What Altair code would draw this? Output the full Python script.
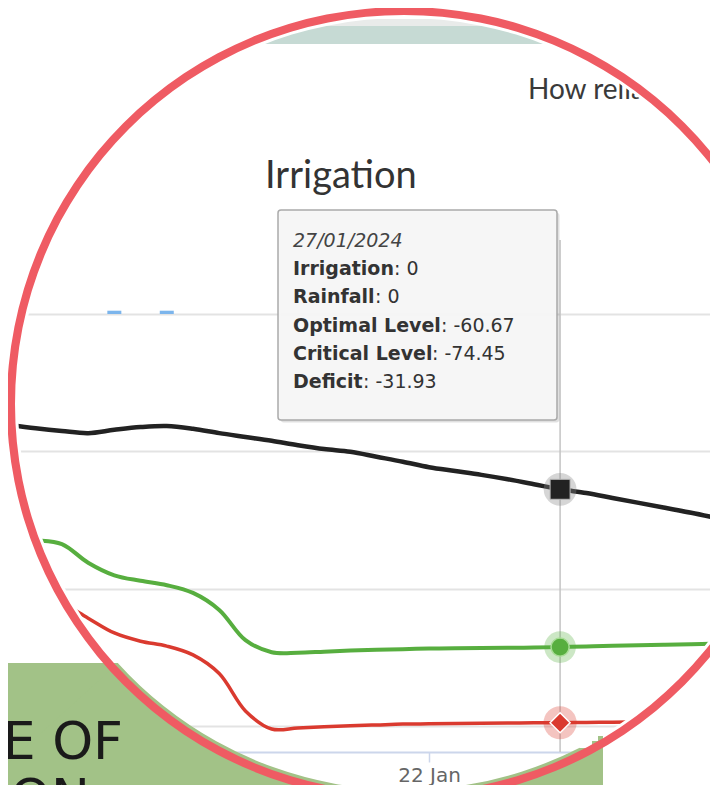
import altair as alt
import pandas as pd

# ---------------- data ----------------
dates = ["2024-01-%02d" % d for d in range(6, 32)] + ["2024-02-01", "2024-02-02"]
deficit = [-20.2, -20.8, -21.3, -21.7, -21.1, -20.6, -20.4, -20.9, -21.7, -22.4,
           -23.1, -23.9, -24.6, -25.1, -26.0, -26.9, -27.9, -28.6, -29.3, -30.1,
           -31.0, -31.93, -32.6, -33.5, -34.4, -35.3, -36.2, -37.2]
optimal = [-41.0, -41.2, -41.9, -45.3, -47.6, -48.6, -49.4, -50.8, -53.9, -59.4,
           -61.6, -61.7, -61.5, -61.3, -61.15, -61.05, -60.95, -60.9, -60.85, -60.8,
           -60.75, -60.67, -60.55, -60.45, -60.35, -60.25, -60.15, -60.05]
critical = [-48.5, -50.5, -52.6, -55.4, -58.1, -59.6, -60.5, -62.1, -65.5, -72.3,
            -75.6, -75.4, -75.2, -75.0, -74.85, -74.7, -74.65, -74.6, -74.55, -74.5,
            -74.47, -74.45, -74.4, -74.35, -74.3, -74.2, -74.15, -74.1]
rainfall = [0, 0, 0, 0, 0.6, 0, 0.6, 0, 0, 0, 0, 0, 0, 0,
            0, 0, 0, 0, 0, 0, 0, 0, 0, 0, 0, 0, 0, 0]
irrigation = [0, 0, 0, 0, 0, 0, 0, 0, 0, 0, 0, 0, 0, 0,
              0, 0, 0, 0, 0, 0, 0, 0, 0, 0, 0, 0, 0, 0]
grid_values = [0, -25, -50, -75]
tick_dates = ["2024-01-22"]
hover_date = "2024-01-27"
hover_label = "27/01/2024"
tip_labels = ["Irrigation", "Rainfall", "Optimal Level", "Critical Level", "Deficit"]
chart_title = "Irrigation"
page_heading = "How reliable"
side_text_1 = "E OF"
side_text_2 = "ON"

# ---------------- layout ----------------
W, H, PAD_B = 702, 744, 33
ZERO_Y = 306.0
PPU = 5.49
DAY_PX = 26.6
JAN22_X = 422.0
y_max = ZERO_Y / PPU
y_min = -(H - ZERO_Y) / PPU
MS_DAY = 86400000


def ms(d):
    return int(pd.Timestamp(d, tz="UTC").value // 10**6)


x_min = ms("2024-01-22") - JAN22_X / DAY_PX * MS_DAY
x_max = x_min + W / DAY_PX * MS_DAY

CX, CY = 396, 396
RING_C = "#ef5b63"
GREEN_BG = "#a2c287"
C_BLACK, C_GREEN, C_RED = "#222222", "#57ae3f", "#da3a2f"
CURVE = "catmull-rom"

df = pd.DataFrame({"date": dates, "deficit": deficit, "optimal": optimal,
                   "critical": critical, "rainfall": rainfall, "irrigation": irrigation})
df27 = df[df.date == hover_date]
one = pd.DataFrame({"k": [0]})

xs = alt.Scale(type="utc", domain=[x_min, x_max], nice=False)
ys = alt.Scale(domain=[y_min, y_max], nice=False, zero=False)
x_axis = alt.Axis(values=[ms(d) for d in tick_dates],
                  labelExpr="utcFormat(datum.value, '%d %b')",
                  labelFont="DejaVu Sans", labelFontSize=20, labelColor="#666666",
                  labelPadding=3, labelOverlap=False, tickSize=10, tickWidth=1.5,
                  tickColor="#ccd6eb", domainColor="#ccd6eb", domainWidth=2,
                  grid=False, title=None)
y_axis = alt.Axis(values=grid_values, labels=False, ticks=False, domain=False,
                  grid=True, gridColor="#e3e3e3", gridWidth=2, title=None)
X = alt.X("date:T", scale=xs, axis=x_axis)


def Y(f):
    return alt.Y(f + ":Q", scale=ys, axis=y_axis)


def deco_rect(x1, x2, y1, y2, color, **kw):
    return alt.Chart(one).mark_rect(color=color, **kw).encode(
        x=alt.value(x1), x2=alt.value(x2), y=alt.value(y1), y2=alt.value(y2))


def deco_text(txt, x, y, **kw):
    return alt.Chart(one).mark_text(text=txt, **kw).encode(x=alt.value(x), y=alt.value(y))


layers = []
# magnified page content
layers.append(deco_rect(0, W, 11, 18, "#e9ebea"))
layers.append(deco_rect(0, W, 18, 36, "#c6dad4"))
layers.append(deco_text(page_heading, 520, 91, font="Lato", fontSize=28, color="#3a3a3a",
                        align="left", baseline="alphabetic"))
layers.append(deco_text(chart_title, 257, 180, font="Lato", fontSize=38, color="#333333",
                        align="left", baseline="alphabetic"))
# crosshair
layers.append(alt.Chart(df27).mark_rule(color="#c4c4c4", strokeWidth=1.5).encode(
    x=X, y=alt.datum(13.5), y2=alt.datum(y_min)))
# bars
layers.append(alt.Chart(df).transform_filter("datum.rainfall > 0").mark_bar(
    size=14, color="#7cb5ec").encode(x=X, y=Y("rainfall"), y2=alt.datum(0)))
# lines
layers.append(alt.Chart(df).mark_line(color=C_BLACK, strokeWidth=4.5, interpolate=CURVE)
              .encode(x=X, y=Y("deficit")))
layers.append(alt.Chart(df).mark_line(color=C_GREEN, strokeWidth=4, interpolate=CURVE)
              .encode(x=X, y=Y("optimal")))
layers.append(alt.Chart(df).mark_line(color=C_RED, strokeWidth=3.5, interpolate=CURVE)
              .encode(x=X, y=Y("critical")))
# halos + markers
layers.append(alt.Chart(df27).mark_point(shape="circle", filled=True, size=1075, color="#8a8a8a",
                                         opacity=0.35).encode(x=X, y=Y("deficit")))
layers.append(alt.Chart(df27).mark_point(shape="circle", filled=True, size=1000, color=C_GREEN,
                                         opacity=0.3).encode(x=X, y=Y("optimal")))
layers.append(alt.Chart(df27).mark_point(shape="circle", filled=True, size=1100, color=C_RED,
                                         opacity=0.3).encode(x=X, y=Y("critical")))
layers.append(alt.Chart(df27).mark_point(shape="square", filled=True, size=400, color=C_BLACK,
                                         stroke="#bbbbbb", strokeWidth=1, opacity=1)
              .encode(x=X, y=Y("deficit")))
layers.append(alt.Chart(df27).mark_point(shape="circle", filled=True, size=330, color=C_GREEN,
                                         stroke="#a8dc96", strokeWidth=1.5, opacity=1)
              .encode(x=X, y=Y("optimal")))
layers.append(alt.Chart(df27).mark_point(shape="diamond", filled=True, size=400, color=C_RED,
                                         stroke="#ffffff", strokeWidth=1.5, opacity=1)
              .encode(x=X, y=Y("critical")))
# tooltip
layers.append(deco_rect(272.5, 551.5, 204.5, 414.5, "#000000", opacity=0.12, cornerRadius=3))
layers.append(deco_rect(270, 549, 202, 412, "#f7f7f7", opacity=0.96, stroke="#a8a8a8",
                        strokeWidth=1.5, cornerRadius=3))
layers.append(deco_text(hover_label, 285, 239, font="DejaVu Sans", fontSize=19, fontStyle="italic",
                        color="#444444", align="left", baseline="alphabetic"))
row = df27.iloc[0]
tip_values = [row.irrigation, row.rainfall, row.optimal, row.critical, row.deficit]
label_ends = [386, 367, 433, 424, 355]
for i, (lab, val) in enumerate(zip(tip_labels, tip_values)):
    yy = 267 + i * 28.3
    layers.append(deco_text(lab, 285, yy, font="DejaVu Sans", fontSize=19, fontWeight="bold",
                            color="#333333", align="left", baseline="alphabetic"))
    layers.append(deco_text(": %g" % val, label_ends[i], yy, font="DejaVu Sans", fontSize=19,
                            color="#333333", align="left", baseline="alphabetic"))

# mask outside the magnifier
layers.append(alt.Chart(one).mark_arc(innerRadius=386, outerRadius=1400, theta=0, theta2=6.2832,
                                      color="#ffffff").encode(x=alt.value(CX), y=alt.value(CY)))
# green page box (outside the circle)
layers.append(deco_rect(-10, 110, 655, 800, GREEN_BG))
layers.append(alt.Chart(one).mark_arc(innerRadius=386, outerRadius=1400, theta=2.669, theta2=3.976,
                                      color=GREEN_BG).encode(x=alt.value(CX), y=alt.value(CY)))
layers.append(deco_rect(572, 595, 740, 800, GREEN_BG))
layers.append(deco_rect(584, 595, 733, 740, GREEN_BG))
layers.append(deco_rect(590, 595, 728, 733, GREEN_BG))
layers.append(deco_text(side_text_1, 115, 751, font="DejaVu Sans", fontSize=52, color="#1a1a1a",
                        align="right", baseline="alphabetic"))
layers.append(deco_text(side_text_2, 2, 808, font="DejaVu Sans", fontSize=52, color="#1a1a1a",
                        align="left", baseline="alphabetic"))
# ring
layers.append(alt.Chart(one).mark_arc(innerRadius=389, outerRadius=397, theta=0, theta2=6.2832,
                                      color=RING_C).encode(x=alt.value(CX), y=alt.value(CY)))

chart = alt.layer(*layers).properties(
    width=W, height=H,
    autosize=alt.AutoSizeParams(type="none"),
    padding={"left": 0, "right": 0, "top": 0, "bottom": PAD_B},
    background="white",
).configure_view(stroke=None)

chart.save("out.html", embed_options={"renderer": "svg", "actions": False})
